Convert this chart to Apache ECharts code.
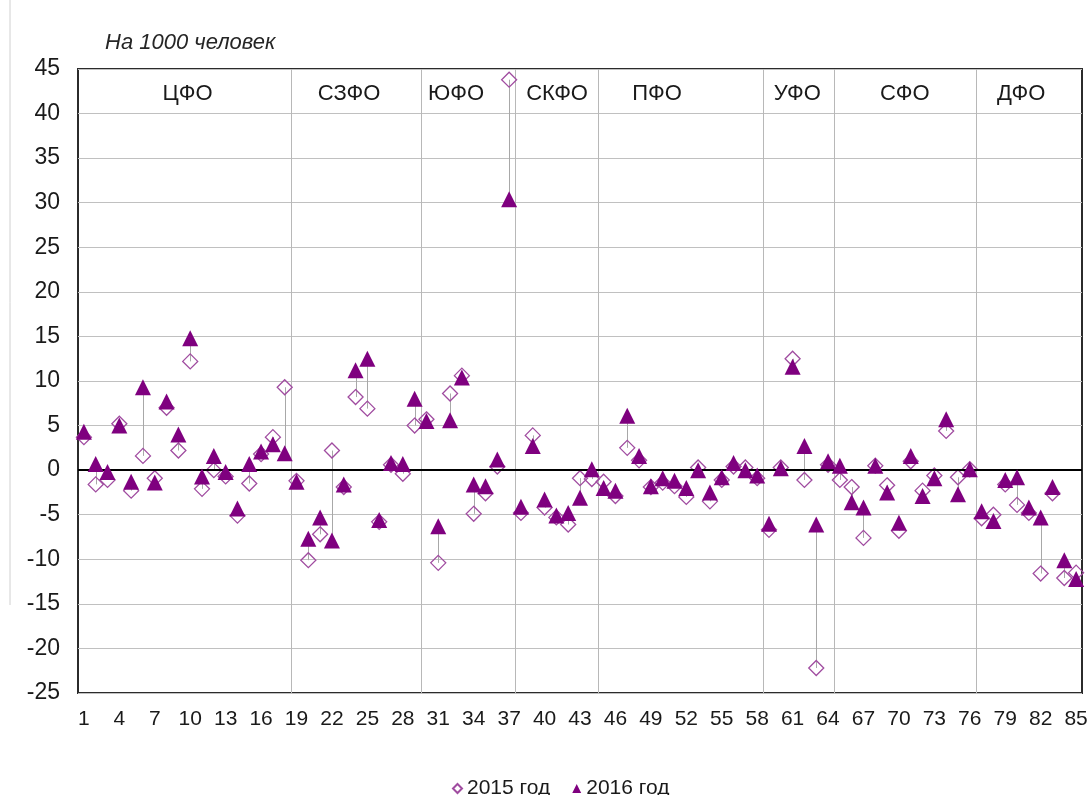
<!DOCTYPE html>
<html><head><meta charset="utf-8">
<script src="https://cdn.jsdelivr.net/npm/echarts@6/dist/echarts.min.js"></script>
<style>html,body{margin:0;padding:0;background:#fff}#c{width:1092px;height:795px}</style>
</head><body><div id="c"></div>
<script>
const categories = ['1','2','3','4','5','6','7','8','9','10','11','12','13','14','15','16','17','18','19','20',
'21','22','23','24','25','26','27','28','29','30','31','32','33','34','35','36','37','38','39','40',
'41','42','43','44','45','46','47','48','49','50','51','52','53','54','55','56','57','58','59','60',
'61','62','63','64','65','66','67','68','69','70','71','72','73','74','75','76','77','78','79','80',
'81','82','83','84','85'];

const values2015 = [3.7,-1.6,-1.1,5.2,-2.3,1.6,-0.9,7.0,2.2,12.2,-2.1,0.0,-0.7,-5.1,-1.5,1.8,3.7,9.3,-1.2,-10.1,
-7.2,2.2,-1.9,8.2,6.9,-5.8,0.6,-0.4,5.0,5.7,-10.4,8.6,10.6,-4.9,-2.6,0.4,43.8,-4.8,3.9,-4.2,
-5.3,-6.1,-0.9,-1.0,-1.3,-2.9,2.5,1.1,-1.9,-1.4,-1.8,-3.0,0.3,-3.5,-1.1,0.4,0.3,-0.9,-6.7,0.3,
12.5,-1.1,-22.2,0.6,-1.1,-1.9,-7.6,0.5,-1.7,-6.8,1.0,-2.3,-0.6,4.4,-0.8,0.1,-5.4,-5.0,-1.6,-3.9,
-4.8,-11.6,-2.6,-12.1,-11.5];

const values2016 = [4.3,0.7,-0.2,5.0,-1.3,9.3,-1.4,7.7,4.0,14.8,-0.7,1.6,-0.2,-4.3,0.7,2.1,2.9,1.9,-1.3,-7.7,
-5.3,-7.9,-1.6,11.2,12.5,-5.6,0.8,0.7,8.0,5.5,-6.3,5.6,10.4,-1.6,-1.8,1.2,30.4,-4.1,2.7,-3.3,
-5.1,-4.8,-3.1,0.1,-2.0,-2.3,6.1,1.6,-1.8,-0.9,-1.2,-2.0,0.0,-2.5,-0.8,0.8,0.0,-0.6,-6.0,0.2,
11.6,2.7,-6.1,1.0,0.5,-3.6,-4.2,0.5,-2.5,-5.9,1.6,-2.9,-0.9,5.7,-2.7,0.1,-4.6,-5.7,-1.1,-0.8,
-4.2,-5.3,-1.9,-10.1,-12.2];

const regionNames = ['ЦФО','СЗФО','ЮФО','СКФО','ПФО','УФО','СФО','ДФО'];
const regionEnds = [18,29,37,44,58,64,76,85];
const yTicks = {min:-25, max:45, interval:5};
const seriesNames = ['2015 год','2016 год'];

// layout: label anchor in category-width units from the plot's left edge
const regionLabelAt = [9.27,22.95,32.0,40.56,49.03,60.9,70.0,79.85];

const FONT = 'Arial, "Liberation Sans", sans-serif';
const chart = echarts.init(document.getElementById('c'), null, {renderer:'canvas'});

function leftEdge(api){
  const p = api.coord([0, yTicks.max]);
  const bw = api.size([1,0])[0];
  return {x0: p[0] - bw/2, bw: bw, top: p[1], bottom: api.coord([0, yTicks.min])[1]};
}

const option = {
  animation:false,
  backgroundColor:'#fff',
  grid:{left:78, right:10, top:69, bottom:102, show:true, borderColor:'#2b2b2b', borderWidth:2, backgroundColor:'transparent'},
  xAxis:{type:'category', data:categories, boundaryGap:true,
    axisLine:{show:false}, axisTick:{show:false}, splitLine:{show:false},
    axisLabel:{interval:2, fontSize:21, color:'#1a1a1a', fontFamily:FONT, margin:16}},
  yAxis:{type:'value', min:yTicks.min, max:yTicks.max, interval:yTicks.interval,
    axisLine:{show:false}, axisTick:{show:false},
    splitLine:{show:true, lineStyle:{color:'#c0c0c0', width:1}},
    axisLabel:{fontSize:23, color:'#1a1a1a', fontFamily:FONT, margin:18}},
  legend:{data:seriesNames, left:447, top:773, itemWidth:9, itemHeight:9, itemGap:22,
    textStyle:{fontSize:21, color:'#1a1a1a', fontFamily:FONT}},
  graphic:[
    {type:'line', shape:{x1:10,y1:0,x2:10,y2:605}, style:{stroke:'#d0d0d0', lineWidth:1}, silent:true},
    {type:'text', left:105, top:32, style:{text:'На 1000 человек', font:'italic 22px '+FONT, fill:'#262626'}, silent:true}
  ],
  series:[
    {
      name:'separators', type:'custom', silent:true, z:1,
      data: regionEnds.slice(0,-1).map(e=>[e]),
      encode:{x:-1,y:-1},
      renderItem:function(params, api){
        const g = leftEdge(api);
        const x = Math.round(g.x0 + api.value(0)*g.bw) + 0.5;
        return {type:'line', shape:{x1:x,y1:g.top,x2:x,y2:g.bottom}, style:{stroke:'#b8b8b8', lineWidth:1}};
      }
    },
    {
      name:'regions', type:'custom', silent:true, z:3,
      data: regionNames.map((n,i)=>[i]),
      encode:{x:-1,y:-1},
      renderItem:function(params, api){
        const g = leftEdge(api);
        const i = api.value(0);
        return {type:'text', x: g.x0 + regionLabelAt[i]*g.bw, y: g.top + 25,
          style:{text:regionNames[i], font:'22px '+FONT, fill:'#1a1a1a', align:'center', verticalAlign:'middle'}};
      }
    },
    {
      name:'hilo', type:'custom', silent:true, z:2,
      data: categories.map((c,i)=>[i, values2015[i], values2016[i]]),
      encode:{x:0, y:[1,2]},
      renderItem:function(params, api){
        const a = api.coord([api.value(0), api.value(1)]);
        const b = api.coord([api.value(0), api.value(2)]);
        const x = Math.round(a[0]) + 0.5;
        return {type:'line', shape:{x1:x,y1:a[1],x2:x,y2:b[1]}, style:{stroke:'#a8a8a8', lineWidth:1}};
      },
      markLine:{silent:true, symbol:'none', label:{show:false}, animation:false,
        data:[{yAxis:0}], lineStyle:{color:'#000', width:2, type:'solid'}}
    },
    {
      name:seriesNames[0], type:'scatter', z:4, data:values2015,
      symbol:'diamond', symbolSize:[15,15],
      itemStyle:{color:'rgba(255,255,255,0)', borderColor:'#a04ca0', borderWidth:1.3, opacity:1}
    },
    {
      name:seriesNames[1], type:'scatter', z:5, data:values2016,
      symbol:'triangle', symbolSize:[16,16],
      itemStyle:{color:'#7f007f', opacity:1}
    }
  ]
};
chart.setOption(option);
</script></body></html>
